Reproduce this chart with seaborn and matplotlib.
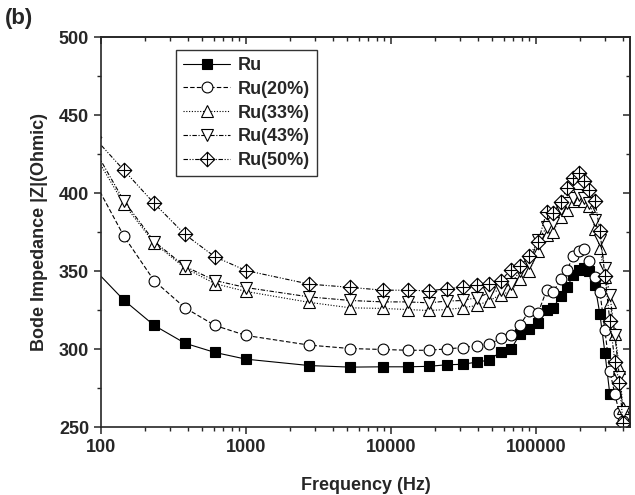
import numpy as np
import pandas as pd
import matplotlib
matplotlib.use("Agg")
import matplotlib.pyplot as plt
import seaborn as sns
from matplotlib.path import Path
from matplotlib.ticker import LogLocator, FixedLocator, MultipleLocator, NullFormatter

# данные (частота, Гц) и значения |Z| по сериям
freq = [89, 144, 233, 380, 611, 1000, 2735, 5260, 8850, 13030, 18280, 24200, 31200,
        38970, 47640, 57130, 67300, 77600, 89950, 103700, 118600, 131600, 147900,
        164300, 180800, 198900, 214300, 233800, 255300, 276300, 299200, 323600,
        350600, 376700, 398500]

ru = [351.6, 331.4, 315.2, 303.8, 297.9, 293.6, 289.5, 288.5, 288.7, 288.7, 289.0,
      290.0, 290.3, 291.7, 293.0, 298.3, 300.0, 309.6, 313.2, 316.9, 325.0, 326.5,
      334.0, 340.0, 347.4, 350.8, 352.0, 350.3, 341.0, 322.4, 297.6, 271.0,
      np.nan, np.nan, np.nan]
ru20 = [408.5, 372.4, 343.8, 326.5, 315.2, 308.8, 302.6, 300.4, 299.8, 299.3, 299.3,
        300.2, 301.0, 302.2, 303.2, 306.9, 309.0, 315.4, 324.6, 323.5, 337.8, 336.7,
        344.7, 350.6, 360.0, 363.0, 364.0, 356.5, 346.0, 336.5, 312.0, 286.0, 271.0,
        259.0, 254.0]
ru33 = [425.8, 393.0, 368.0, 352.0, 342.0, 337.0, 330.0, 326.5, 326.1, 325.4, 324.8,
        325.4, 326.5, 328.0, 331.0, 335.0, 337.0, 345.0, 350.0, 363.0, 373.0, 375.0,
        385.0, 389.0, 395.0, 396.0, 395.0, 392.0, 377.0, 364.6, 346.3, 330.0, 310.0,
        288.0, 262.0]
ru43 = [429.0, 395.0, 369.0, 353.0, 344.0, 339.5, 333.5, 331.2, 330.3, 330.3, 329.7,
        330.8, 331.2, 333.0, 336.0, 338.0, 342.0, 350.0, 355.0, 370.0, 378.0, 381.0,
        390.0, 394.0, 397.0, 399.0, 397.0, 394.0, 383.0, 370.0, 352.0, 335.0, 309.0,
        282.0, 260.0]
ru50 = [436.0, 414.7, 393.4, 373.5, 359.2, 350.4, 341.7, 339.6, 337.8, 337.8, 337.4,
        338.7, 339.8, 341.0, 342.0, 343.8, 351.0, 353.0, 360.0, 369.0, 388.0, 387.0,
        394.4, 403.0, 410.0, 413.0, 408.0, 402.0, 395.0, 376.0, 347.0, 318.0, 292.0,
        278.0, 253.0]

labels = ["Ru", "Ru(20%)", "Ru(33%)", "Ru(43%)", "Ru(50%)"]
series = [ru, ru20, ru33, ru43, ru50]

# ромб с крестом внутри
diamond_plus = Path(
    [(0, 1), (1, 0), (0, -1), (-1, 0), (0, 1), (0, 1), (0, -1), (-1, 0), (1, 0)],
    [Path.MOVETO, Path.LINETO, Path.LINETO, Path.LINETO, Path.CLOSEPOLY,
     Path.MOVETO, Path.LINETO, Path.MOVETO, Path.LINETO])

styles = [
    dict(marker="s", ms=6.8, mfc="black", ls="-"),
    dict(marker="o", ms=7.8, mfc="white", ls=(0, (4, 2))),
    dict(marker="^", ms=9.2, mfc="white", ls=(0, (1, 1.5))),
    dict(marker="v", ms=9.2, mfc="white", ls=(0, (4, 1.5, 1, 1.5))),
    dict(marker=diamond_plus, ms=10.5, mfc="white", ls=(0, (4, 1.5, 1, 1.5, 1, 1.5))),
]

sns.set_style("ticks")
plt.rcParams["font.family"] = ["Liberation Sans", "DejaVu Sans"]
plt.rcParams["font.weight"] = "bold"

fig = plt.figure(figsize=(6.35, 4.95), dpi=100)
ax = fig.add_axes([0.159, 0.137, 0.833, 0.788])

for lab, vals, st in zip(labels, series, styles):
    df = pd.DataFrame({"f": freq, "z": vals}).dropna()
    sns.lineplot(data=df, x="f", y="z", ax=ax, label=lab, color="black",
                 lw=0.8, linestyle=st["ls"], marker=st["marker"], markersize=st["ms"],
                 markerfacecolor=st["mfc"], markeredgecolor="black",
                 markeredgewidth=0.8)

ax.set_xscale("log")
ax.set_xlim(100, 445000)
ax.set_ylim(250, 500)

xmaj = [100, 1000, 10000, 100000]
ax.xaxis.set_major_locator(FixedLocator(xmaj))
ax.set_xticklabels(["100", "1000", "10000", "100000"])
ax.xaxis.set_minor_locator(LogLocator(base=10, subs=np.arange(2, 10)))
ax.xaxis.set_minor_formatter(NullFormatter())
ax.yaxis.set_major_locator(MultipleLocator(50))
ax.yaxis.set_minor_locator(MultipleLocator(25))

ax.tick_params(axis="both", which="major", labelsize=13, length=5, width=1.1,
               direction="out", top=False, right=False)
ax.tick_params(axis="both", which="minor", length=3, width=1.0, direction="out",
               top=False, right=False)

# зеркальные засечки сверху и справа, внутрь
top = ax.secondary_xaxis("top")
top.xaxis.set_major_locator(FixedLocator(xmaj))
top.xaxis.set_minor_locator(LogLocator(base=10, subs=np.arange(2, 10)))
top.tick_params(which="major", direction="in", length=5, width=1.1, labeltop=False)
top.tick_params(which="minor", direction="in", length=3, width=1.0)
top.xaxis.set_minor_formatter(NullFormatter())
top.spines["top"].set_linewidth(1.2)

right = ax.secondary_yaxis("right")
right.yaxis.set_major_locator(MultipleLocator(50))
right.yaxis.set_minor_locator(MultipleLocator(25))
right.tick_params(which="major", direction="in", length=5, width=1.1, labelright=False)
right.tick_params(which="minor", direction="in", length=3, width=1.0)
right.spines["right"].set_linewidth(1.2)

for sp in ax.spines.values():
    sp.set_linewidth(1.2)
    sp.set_visible(True)

ax.set_xlabel("Frequency (Hz)", fontsize=13, fontweight="bold", labelpad=15)
ax.set_ylabel("Bode Impedance |Z|(Ohmic)", fontsize=13, fontweight="bold", labelpad=8)

leg = ax.legend(loc="upper left", bbox_to_anchor=(0.142, 0.968), fontsize=13,
                frameon=True, fancybox=False, edgecolor="black", handlelength=2.6,
                handletextpad=0.4, labelspacing=0.38, borderpad=0.4, borderaxespad=0)
leg.get_frame().set_linewidth(1.0)
for t in leg.get_texts():
    t.set_fontweight("bold")

fig.text(0.008, 0.952, "(b)", fontsize=16, fontweight="bold")

fig.savefig("out.png", dpi=100)
